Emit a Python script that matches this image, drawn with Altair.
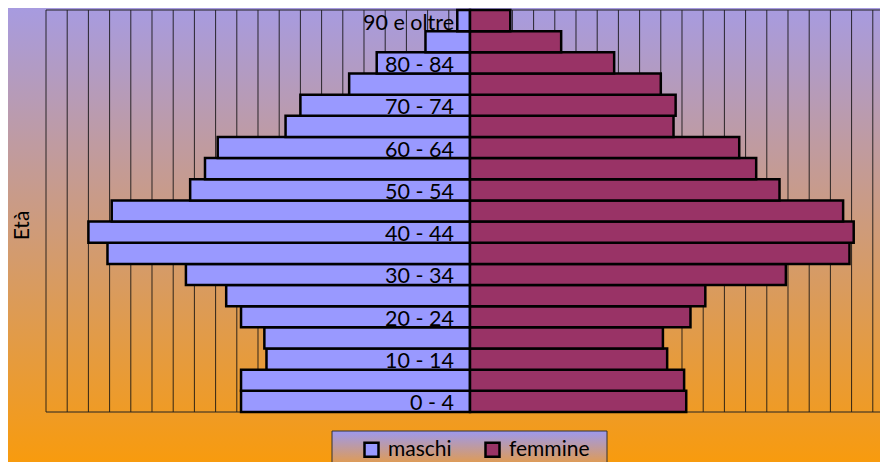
import altair as alt
import pandas as pd

# Age classes (bottom to top)
eta = ["0 - 4", "5 - 9", "10 - 14", "15 - 19", "20 - 24", "25 - 29", "30 - 34",
       "35 - 39", "40 - 44", "45 - 49", "50 - 54", "55 - 59", "60 - 64", "65 - 69",
       "70 - 74", "75 - 79", "80 - 84", "85 - 89", "90 e oltre"]
maschi = [108, 108, 96, 97, 108, 115, 134, 171, 180, 169, 132, 125, 119, 87, 80, 57, 44, 21, 6]
femmine = [102, 101, 93, 91, 104, 111, 149, 179, 181, 176, 146, 135, 127, 96, 97, 90, 68, 43, 19]
etichette = eta[::2]
griglia = list(range(-200, 200, 10))
sessi = ["maschi", "femmine"]
colori = ["#9999ff", "#993366"]

rows = []
for e, m, f in zip(eta, maschi, femmine):
    rows.append({"eta": e, "sesso": "maschi", "valore": -m})
    rows.append({"eta": e, "sesso": "femmine", "valore": f})
df = pd.DataFrame(rows)

W, H = 834, 402
xscale = alt.Scale(domain=[-200, 193.4], nice=False, zero=False)
yscale = alt.Scale(domain=eta[::-1], paddingInner=0, paddingOuter=0)

bg_grad = alt.LinearGradient(
    gradient="linear",
    stops=[alt.GradientStop(color="#a79be0", offset=0),
           alt.GradientStop(color="#f89b0e", offset=1)],
    x1=0, x2=0, y1=0, y2=1)
leg_grad = alt.LinearGradient(
    gradient="linear",
    stops=[alt.GradientStop(color="#9d99ee", offset=0),
           alt.GradientStop(color="#f29c28", offset=1)],
    x1=0, x2=0, y1=0, y2=1)

one = pd.DataFrame({"a": [0]})

bg = alt.Chart(one).mark_rect(fill=bg_grad).encode(
    x=alt.value(-38), x2=alt.value(W), y=alt.value(-2), y2=alt.value(H + 50))

grid = alt.Chart(pd.DataFrame({"v": griglia})).mark_rule(
    color="#111111", strokeWidth=1, opacity=0.85).encode(
    x=alt.X("v:Q", scale=xscale, axis=None))

top_border = alt.Chart(one).mark_rule(color="#222222", strokeWidth=1).encode(
    x=alt.value(0), x2=alt.value(W), y=alt.value(0))
bottom_border = alt.Chart(one).mark_rule(color="#222222", strokeWidth=1).encode(
    x=alt.value(0), x2=alt.value(W), y=alt.value(H))

leg_box = alt.Chart(one).mark_rect(fill=leg_grad, stroke="#333333", strokeWidth=1).encode(
    x=alt.value(286), x2=alt.value(561), y=alt.value(421), y2=alt.value(462))

bars = alt.Chart(df).mark_bar(stroke="black", strokeWidth=2.5).encode(
    x=alt.X("valore:Q", scale=xscale, axis=None),
    y=alt.Y("eta:N", scale=yscale,
            axis=alt.Axis(title="Età", labels=False, ticks=False, domain=False, grid=False,
                          zindex=1, titleFont="Lato", titleFontSize=21,
                          titleFontWeight="normal", titleColor="black",
                          titleX=-18, titleY=215, titleAngle=270, titleAlign="center",
                          titleBaseline="alphabetic")),
    color=alt.Color("sesso:N", scale=alt.Scale(domain=sessi, range=colori),
                    legend=alt.Legend(title=None, orient="none", legendX=315, legendY=429,
                                      direction="horizontal", symbolType="square",
                                      symbolSize=196, symbolStrokeColor="black",
                                      symbolStrokeWidth=2.5, labelFont="Lato",
                                      labelFontSize=21, labelColor="black",
                                      columnPadding=28, padding=0, labelOffset=6,
                                      zindex=1)),
)

labels = alt.Chart(pd.DataFrame({"eta": etichette})).mark_text(
    align="right", baseline="alphabetic", dx=-16, dy=9, font="Lato",
    fontSize=21.5, color="black").encode(
    x=alt.datum(0),
    y=alt.Y("eta:N", scale=yscale),
    text="eta:N")

chart = alt.layer(bg, grid, top_border, bottom_border, leg_box, bars, labels).properties(
    width=W, height=H,
    padding={"left": 38, "top": 2, "right": 0, "bottom": 50},
    autosize=alt.AutoSizeParams(type="none"),
    background="#a79be0",
).configure_view(stroke=None)

chart.save("out.html", embed_options={"renderer": "svg", "actions": False})
